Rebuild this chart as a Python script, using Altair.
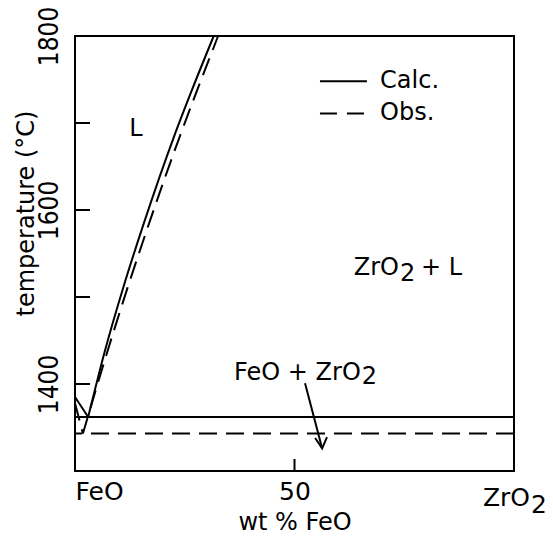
import altair as alt
import pandas as pd

# Calculated liquidus (FeO side down to eutectic, then ZrO2 liquidus up)
calc_x = [0.0, 3.0, 6.7, 11.0, 15.5, 22.6, 26.8, 31.6]
calc_T = [1385, 1362, 1436, 1511, 1582, 1685, 1740, 1800]
# Observed liquidus
obs_x = [0.0, 1.8, 7.3, 12.0, 16.7, 23.9, 28.0, 32.6]
obs_T = [1378, 1343, 1436, 1511, 1582, 1685, 1740, 1800]
# Eutectic temperatures
calc_eut_T = [1362]
obs_eut_T = [1343]
# Axis ticks / labels
y_tick_vals = [1400, 1500, 1600, 1700]
y_label_vals = [1400, 1600, 1800]
x_tick_vals = [50]
x_label_vals = [0, 50]
# Arrow (FeO + ZrO2 label to dashed eutectic)
arrow_x = [52.4, 56.3, 54.7, 56.3, 57.4]
arrow_T = [1401, 1326, 1338, 1326, 1339]
arrow_seg = [0, 0, 1, 1, 1]
# Legend sample lines
leg_x = [55.8, 66.5]
leg_calc_T = 1748
leg_obs_T = 1711

W, H = 439, 435
FONT = "DejaVu Sans"
NARROW = "Liberation Sans Narrow, DejaVu Sans Condensed, DejaVu Sans"

xs = alt.Scale(domain=[0, 100], nice=False, zero=False)
ys = alt.Scale(domain=[1300, 1800], nice=False, zero=False)

x_axis = alt.Axis(values=x_label_vals, title="wt % FeO",
                  labelExpr="datum.value == 0 ? 'FeO' : datum.value == 50 ? '50' : ''",
                  ticks=False, tickSize=0, domain=False, grid=False,
                  labelPadding=8, titlePadding=6, labelFontSize=25, titleFontSize=24,
                  labelFont=FONT, titleFont=FONT, labelColor="black", titleColor="black",
                  titleFontWeight="normal")
y_axis = alt.Axis(values=y_label_vals, title="temperature (°C)", labelAngle=270, format="d",
                  labelAlign="center", labelBaseline="bottom",
                  ticks=False, tickSize=0, domain=False, grid=False,
                  labelPadding=13, labelFontSize=26, titleFontSize=24,
                  titleAngle=270, titleX=-49, titleY=177, titleAlign="center",
                  titleBaseline="middle",
                  labelFont=NARROW, titleFont=FONT, labelColor="black", titleColor="black",
                  titleFontWeight="normal")


def X():
    return alt.X("x:Q", scale=xs, axis=x_axis)


def Y():
    return alt.Y("T:Q", scale=ys, axis=y_axis)


calc_df = pd.DataFrame({"x": calc_x, "T": calc_T, "i": list(range(len(calc_x)))})
obs_df = pd.DataFrame({"x": obs_x, "T": obs_T, "i": list(range(len(obs_x)))})

calc_fe = alt.Chart(calc_df.iloc[:2]).mark_line(color="black", strokeWidth=2).encode(
    x=X(), y=Y(), order="i:Q")
calc_line = alt.Chart(calc_df.iloc[1:]).mark_line(color="black", strokeWidth=2, interpolate="monotone").encode(
    x=X(), y=Y(), order="i:Q")
obs_fe = alt.Chart(obs_df.iloc[:2]).mark_line(color="black", strokeWidth=2, strokeDash=[18, 9]).encode(
    x=X(), y=Y(), order="i:Q")
obs_line = alt.Chart(obs_df.iloc[1:]).mark_line(color="black", strokeWidth=2, strokeDash=[18, 9],
                                               interpolate="monotone").encode(
    x=X(), y=Y(), order="i:Q")

calc_eut = alt.Chart(pd.DataFrame({"T": calc_eut_T})).mark_rule(color="black", strokeWidth=2).encode(y=Y())
obs_eut = alt.Chart(pd.DataFrame({"T": obs_eut_T})).mark_rule(
    color="black", strokeWidth=2, strokeDash=[18, 9]).encode(y=Y())

y_ticks = alt.Chart(pd.DataFrame({"T": y_tick_vals})).mark_rule(color="black", strokeWidth=2).encode(
    y=Y(), x=alt.value(0), x2=alt.value(15))
x_ticks = alt.Chart(pd.DataFrame({"x": x_tick_vals})).mark_rule(color="black", strokeWidth=2).encode(
    x=X(), y=alt.value(H), y2=alt.value(H - 12))

arrow_df = pd.DataFrame({"x": arrow_x, "T": arrow_T, "s": arrow_seg, "i": list(range(len(arrow_x)))})
arrow = alt.Chart(arrow_df).mark_line(color="black", strokeWidth=2).encode(
    x=X(), y=Y(), detail="s:N", order="i:Q")

leg_df = pd.DataFrame({"x": leg_x * 2, "T": [leg_calc_T] * 2 + [leg_obs_T] * 2, "k": ["c", "c", "o", "o"]})
leg_solid = alt.Chart(leg_df[leg_df.k == "c"]).mark_line(color="black", strokeWidth=2).encode(x=X(), y=Y())
leg_dash = alt.Chart(leg_df[leg_df.k == "o"]).mark_line(color="black", strokeWidth=2, strokeDash=[17, 10]).encode(
    x=X(), y=Y())


def txt(text, x, T, align="left", baseline="alphabetic", size=24, dx=0, dy=0):
    return alt.Chart(pd.DataFrame({"x": [x], "T": [T], "t": [text]})).mark_text(
        align=align, baseline=baseline, fontSize=size, font=FONT, color="black", dx=dx, dy=dy
    ).encode(x=X(), y=Y(), text="t:N")


texts = [
    txt("Calc.", 69.5, leg_calc_T, baseline="middle"),
    txt("Obs.", 69.5, leg_obs_T, baseline="middle"),
    txt("L", 13.9, 1693, align="center", baseline="middle"),
    txt("ZrO", 73.8, 1525, align="right"),
    txt("2", 73.8, 1525, align="left", dx=1, dy=6),
    txt("+ L", 73.8, 1525, align="left", dx=22),
    txt("FeO + ZrO", 65.1, 1405, align="right"),
    txt("2", 65.1, 1405, align="left", dx=1, dy=4),
]

zro_lab = alt.Chart(pd.DataFrame({"x": [100], "t": ["ZrO"]})).mark_text(
    align="right", baseline="alphabetic", fontSize=25, font=FONT, color="black", dx=16
).encode(x=X(), y=alt.value(H + 35), text="t:N")
zro_sub = alt.Chart(pd.DataFrame({"x": [100], "t": ["2"]})).mark_text(
    align="left", baseline="alphabetic", fontSize=25, font=FONT, color="black", dx=17
).encode(x=X(), y=alt.value(H + 42), text="t:N")

chart = alt.layer(
    calc_fe, calc_line, obs_fe, obs_line, calc_eut, obs_eut, y_ticks, x_ticks, arrow, leg_solid, leg_dash,
    *texts, zro_lab, zro_sub
).properties(
    width=W, height=H,
    autosize=alt.AutoSizeParams(type="none"),
    padding={"left": 75, "top": 36, "right": 39, "bottom": 70},
    background="white",
).configure_view(
    stroke="black", strokeWidth=2
).configure_axis(
    labelFont=FONT, titleFont=FONT, labelColor="black", titleColor="black",
    titleFontWeight="normal"
)

chart.save("out.html", embed_options={"renderer": "svg", "actions": False})
